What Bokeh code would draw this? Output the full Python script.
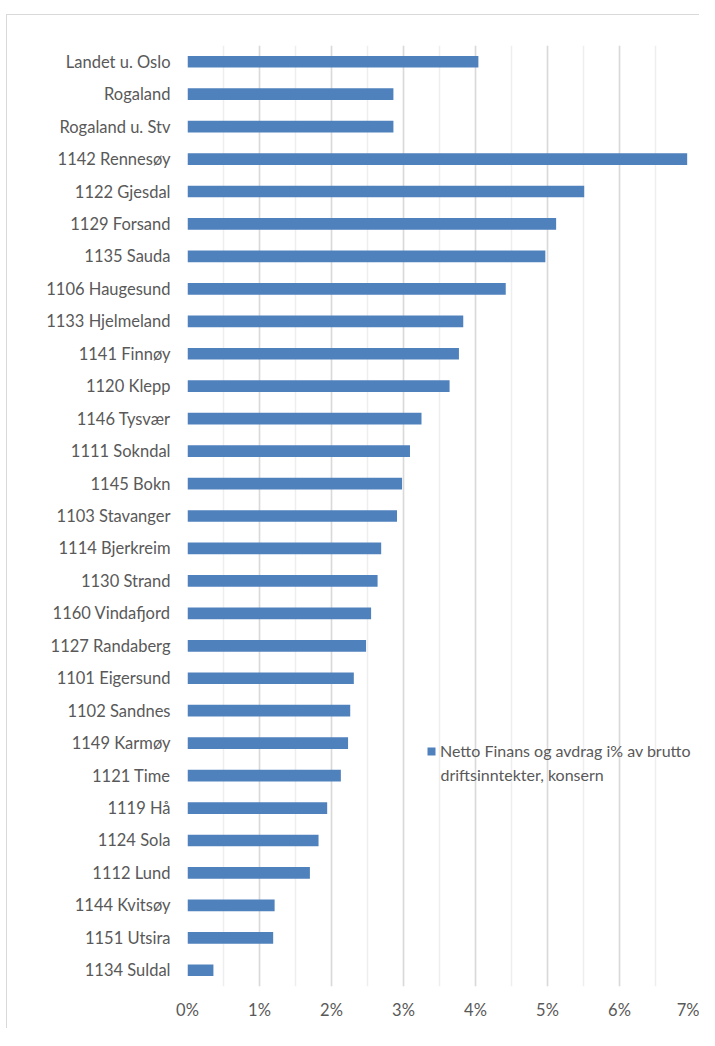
from bokeh.plotting import figure
from bokeh.models import (ColumnDataSource, Range1d, FactorRange, SingleIntervalTicker,
                          NumeralTickFormatter, Label)
from bokeh.embed import file_html
from bokeh.resources import INLINE

categories = ["Landet u. Oslo", "Rogaland", "Rogaland u. Stv", "1142 Rennesøy", "1122 Gjesdal",
              "1129 Forsand", "1135 Sauda", "1106 Haugesund", "1133 Hjelmeland", "1141 Finnøy",
              "1120 Klepp", "1146 Tysvær", "1111 Sokndal", "1145 Bokn", "1103 Stavanger",
              "1114 Bjerkreim", "1130 Strand", "1160 Vindafjord", "1127 Randaberg", "1101 Eigersund",
              "1102 Sandnes", "1149 Karmøy", "1121 Time", "1119 Hå", "1124 Sola", "1112 Lund",
              "1144 Kvitsøy", "1151 Utsira", "1134 Suldal"]
values_pct = [4.04, 2.86, 2.86, 6.94, 5.51, 5.12, 4.97, 4.42, 3.83, 3.77, 3.64, 3.25, 3.09, 2.98,
              2.91, 2.69, 2.64, 2.55, 2.48, 2.31, 2.26, 2.23, 2.13, 1.94, 1.82, 1.70, 1.21, 1.19, 0.36]
series_name = "Netto Finans og avdrag i% av brutto"
series_name_line2 = "driftsinntekter, konsern"

FONT = "Lato"
FS = "16.5px"
LFS = "16px"
TXT = "#595959"
BAR = "#4F81BD"

src = ColumnDataSource(dict(cat=categories, val=[v / 100 for v in values_pct]))

p = figure(width=699, height=1028, output_backend="svg", toolbar_location=None,
           x_range=Range1d(0, 0.07),
           y_range=FactorRange(factors=list(reversed(categories))),
           min_border_left=187, min_border_right=8, min_border_top=45, min_border_bottom=42)

# light grey chart-area border (top and left edges) drawn behind a transparent canvas border
p.styles = {
    "background-color": "white",
    "background-image": "linear-gradient(#d9d9d9, #d9d9d9), linear-gradient(#d9d9d9, #d9d9d9)",
    "background-repeat": "no-repeat, no-repeat",
    "background-position": "6px 14px, 6px 14px",
    "background-size": "1px 100%, 100% 1px",
}
p.border_fill_alpha = 0

p.hbar(y="cat", right="val", left=0, height=0.36, source=src, fill_color=BAR, line_color=None,
       legend_label=series_name)

p.outline_line_color = None
p.background_fill_color = "white"

# x axis
p.xaxis.ticker = SingleIntervalTicker(interval=0.01, num_minor_ticks=2)
p.xaxis.formatter = NumeralTickFormatter(format="0%")
p.xaxis.axis_line_color = None
p.xaxis.major_tick_line_color = None
p.xaxis.minor_tick_line_color = None
p.xaxis.major_tick_out = 0
p.xaxis.major_tick_in = 0
p.xaxis.major_label_standoff = 9
p.xaxis.major_label_text_font = FONT
p.xaxis.major_label_text_font_size = FS
p.xaxis.major_label_text_color = TXT

# y axis
p.yaxis.axis_line_color = None
p.yaxis.major_tick_line_color = None
p.yaxis.major_tick_out = 0
p.yaxis.major_tick_in = 0
p.yaxis.major_label_standoff = 17
p.yaxis.major_label_text_font = FONT
p.yaxis.major_label_text_font_size = FS
p.yaxis.major_label_text_color = TXT

# grid
p.xgrid.grid_line_color = "#d9d9d9"
p.xgrid.grid_line_width = 1.5
p.xgrid.minor_grid_line_color = "#eeeeee"
p.xgrid.minor_grid_line_width = 1.5
p.ygrid.grid_line_color = None

# legend
lg = p.legend[0]
lg.location = (239, 226)
lg.background_fill_alpha = 0
lg.border_line_color = None
lg.padding = 0
lg.margin = 0
lg.spacing = 0
lg.glyph_width = 10
lg.glyph_height = 10
lg.label_standoff = 4
lg.label_height = 18
lg.label_text_font = FONT
lg.label_text_font_size = LFS
lg.label_text_color = TXT

p.add_layout(Label(x=253, y=212, x_units="screen", y_units="screen", text=series_name_line2,
                   text_font=FONT, text_font_size=LFS, text_color=TXT,
                   text_baseline="middle", text_align="left"))

open("out.html", "w").write(file_html(p, INLINE))
